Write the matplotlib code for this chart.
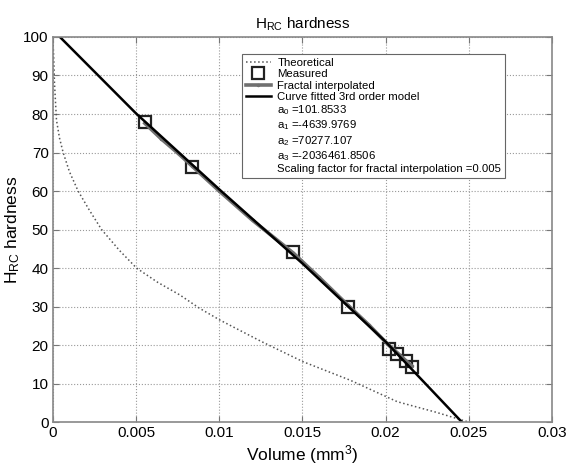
import matplotlib
matplotlib.use('Agg')
import matplotlib.pyplot as plt
from matplotlib.lines import Line2D

plt.rcParams['font.family'] = ['Liberation Sans', 'DejaVu Sans']
plt.rcParams['mathtext.fontset'] = 'custom'
plt.rcParams['mathtext.rm'] = 'Liberation Sans'
plt.rcParams['mathtext.it'] = 'Liberation Sans'

# theoretical curve
theo_v = [0.0, 0.00005, 0.0001, 0.00022, 0.0004, 0.00062, 0.001, 0.00152,
          0.0022, 0.00293, 0.004, 0.00503, 0.0063, 0.00764, 0.0088, 0.01004,
          0.0125, 0.01503, 0.01786, 0.0207, 0.023, 0.025]
theo_h = [100, 95, 88, 78.4, 73.8, 70, 65, 60, 55, 50, 44.6, 40, 36.3, 33,
          29.6, 26.5, 21, 15.7, 10.9, 5.3, 2.6, 0]

# measured points
meas_v = [0.00553, 0.00834, 0.01445, 0.01772, 0.0202, 0.0207, 0.0212, 0.02157]
meas_h = [77.9, 66.3, 44.1, 29.9, 19.1, 17.7, 15.9, 14.4]

# fractal interpolated
frac_v = [0.00553, 0.0065, 0.0075, 0.00834, 0.0100, 0.0120, 0.01445, 0.0160,
          0.01772, 0.0190, 0.0202, 0.0207, 0.0212, 0.02157]
frac_h = [77.6, 73.6, 69.9, 66.6, 60.0, 52.4, 43.9, 37.6, 30.4, 25.2, 19.9,
          18.0, 16.0, 14.6]

# curve fitted 3rd order model
fit_v = [0.0, 0.005, 0.01, 0.015, 0.02, 0.0246]
fit_h = [101.85, 80.15, 60.44, 41.19, 20.87, -0.08]

coef_labels = ['a$_0$ =101.8533', 'a$_1$ =-4639.9769', 'a$_2$ =70277.107',
               'a$_3$ =-2036461.8506',
               'Scaling factor for fractal interpolation =0.005']

fig = plt.figure(figsize=(5.68, 4.68), dpi=100)
ax = fig.add_axes([0.093, 0.098, 0.879, 0.823])

ax.plot(theo_v, theo_h, ':', color='#555555', lw=1.1, label='Theoretical')
ax.plot(meas_v, meas_h, 's', ms=9, mfc='none', mec='#222222', mew=1.6,
        label='Measured')
ax.plot(frac_v, frac_h, '-', color='#707070', lw=2.6, marker='.', ms=3,
        label='Fractal interpolated')
ax.plot(fit_v, fit_h, '-', color='black', lw=1.8,
        label='Curve fitted 3rd order model')

ax.set_xlim(0, 0.03)
ax.set_ylim(0, 100)
ax.set_xticks([0, 0.005, 0.01, 0.015, 0.02, 0.025, 0.03])
ax.set_xticklabels(['0', '0.005', '0.01', '0.015', '0.02', '0.025', '0.03'])
ax.set_yticks(range(0, 101, 10))
ax.grid(True, ls=':', color='#999999', lw=0.8)
ax.tick_params(direction='in', top=True, right=True, labelsize=11,
               color='#777777', length=4, pad=3)
for s in ax.spines.values():
    s.set_color('#888888')
    s.set_linewidth(1.2)

ax.set_title('H$_{RC}$ hardness', fontsize=11, pad=6)
ax.set_xlabel('Volume (mm$^3$)', fontsize=12.5, labelpad=2)
ax.set_ylabel('H$_{RC}$ hardness', fontsize=12.5, labelpad=1)

handles, labels = ax.get_legend_handles_labels()
for t in coef_labels:
    handles.append(Line2D([], [], color='none'))
    labels.append(t)
leg = ax.legend(handles, labels, loc='upper left', bbox_to_anchor=(0.378, 0.956),
                borderaxespad=0, fontsize=8.2, handlelength=2.2,
                handletextpad=0.6, labelspacing=0.12, borderpad=0.35,
                fancybox=False, framealpha=1, edgecolor='#666666')
leg.get_frame().set_linewidth(0.8)

fig.savefig('out.png', dpi=100)
